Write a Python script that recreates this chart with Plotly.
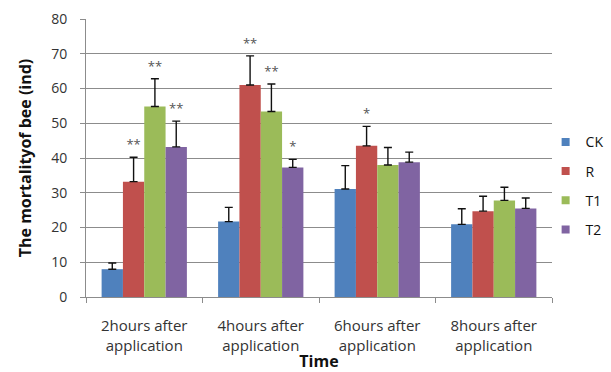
import plotly.graph_objects as go

categories = ["2hours after<br>application", "4hours after<br>application",
              "6hours after<br>application", "8hours after<br>application"]
series_names = ["CK", "R", "T1", "T2"]
ck = [8.0, 21.7, 31.1, 20.9]
r = [33.2, 61.0, 43.5, 24.7]
t1 = [54.8, 53.4, 38.0, 27.8]
t2 = [43.2, 37.3, 38.8, 25.5]
ck_err = [1.8, 4.1, 6.7, 4.5]
r_err = [7.0, 8.4, 5.6, 4.3]
t1_err = [8.0, 7.9, 5.0, 3.8]
t2_err = [7.4, 2.3, 2.9, 3.0]
ck_sig = ["", "", "", ""]
r_sig = ["**", "**", "*", ""]
t1_sig = ["**", "**", "", ""]
t2_sig = ["**", "*", "", ""]

values = [ck, r, t1, t2]
errors = [ck_err, r_err, t1_err, t2_err]
sigs = [ck_sig, r_sig, t1_sig, t2_sig]
colors = ["#4F81BD", "#C0504D", "#9BBB59", "#8064A2"]

bar_w = 0.183
n = len(series_names)
fig = go.Figure()
for j, name in enumerate(series_names):
    xs = [i + (j - (n - 1) / 2) * bar_w for i in range(len(categories))]
    fig.add_trace(go.Bar(
        x=xs, y=values[j], width=bar_w, name=name, showlegend=False,
        marker=dict(color=colors[j], line=dict(width=0)),
        error_y=dict(type="data", array=errors[j], arrayminus=[0] * 4,
                     symmetric=False, color="#111111", thickness=1.4, width=4),
    ))
    # significance stars above each error bar
    tops = [v + e for v, e in zip(values[j], errors[j])]
    fig.add_trace(go.Scatter(
        x=xs, y=tops, mode="markers+text", text=sigs[j],
        textposition="top center",
        marker=dict(size=6, opacity=0),
        textfont=dict(size=13, color="#555555", family="Open Sans"),
        showlegend=False, hoverinfo="skip",
    ))

# small square legend keys
for j, name in enumerate(series_names):
    fig.add_trace(go.Scatter(
        x=[None], y=[None], mode="markers", name=name, legendgroup=name,
        marker=dict(symbol="square", size=8, color=colors[j]),
    ))

fig.update_layout(
    width=611, height=372,
    margin=dict(l=86, r=59, t=19, b=75, autoexpand=False),
    paper_bgcolor="white", plot_bgcolor="white",
    font=dict(family="Open Sans", size=14, color="#222222"),
    barmode="overlay",
    legend=dict(xref="container", x=0.893, y=0.40, xanchor="left",
                yanchor="middle", tracegroupgap=8,
                font=dict(size=14, color="#111111"),
                itemwidth=30, bgcolor="rgba(0,0,0,0)"),
    xaxis=dict(
        range=[-0.5, 3.5], tickvals=list(range(4)), ticktext=categories,
        ticks="", showgrid=False, showline=True, linecolor="#8c8c8c",
        linewidth=1, tickfont=dict(size=15, color="#333333"),
        ticklabelstandoff=15, automargin=False,
        minor=dict(tickvals=[-0.5, 0.5, 1.5, 2.5, 3.5], ticks="outside",
                   ticklen=5, tickcolor="#8c8c8c", showgrid=False),
        title=dict(text="<b>Time</b>", font=dict(size=16, color="#111111"),
                   standoff=12),
        zeroline=False,
    ),
    yaxis=dict(
        range=[0, 80], dtick=10, showgrid=True, gridcolor="#8c8c8c",
        gridwidth=1, showline=True, linecolor="#8c8c8c", linewidth=1,
        ticks="outside", ticklen=5, tickcolor="#8c8c8c",
        tickfont=dict(size=14, color="#333333"), ticklabelstandoff=10,
        zeroline=False, automargin=False,
        title=dict(text="<b>The mortalityof bee (ind)</b>",
                   font=dict(size=16, color="#111111"), standoff=15),
    ),
)

fig.write_html("out.html")
